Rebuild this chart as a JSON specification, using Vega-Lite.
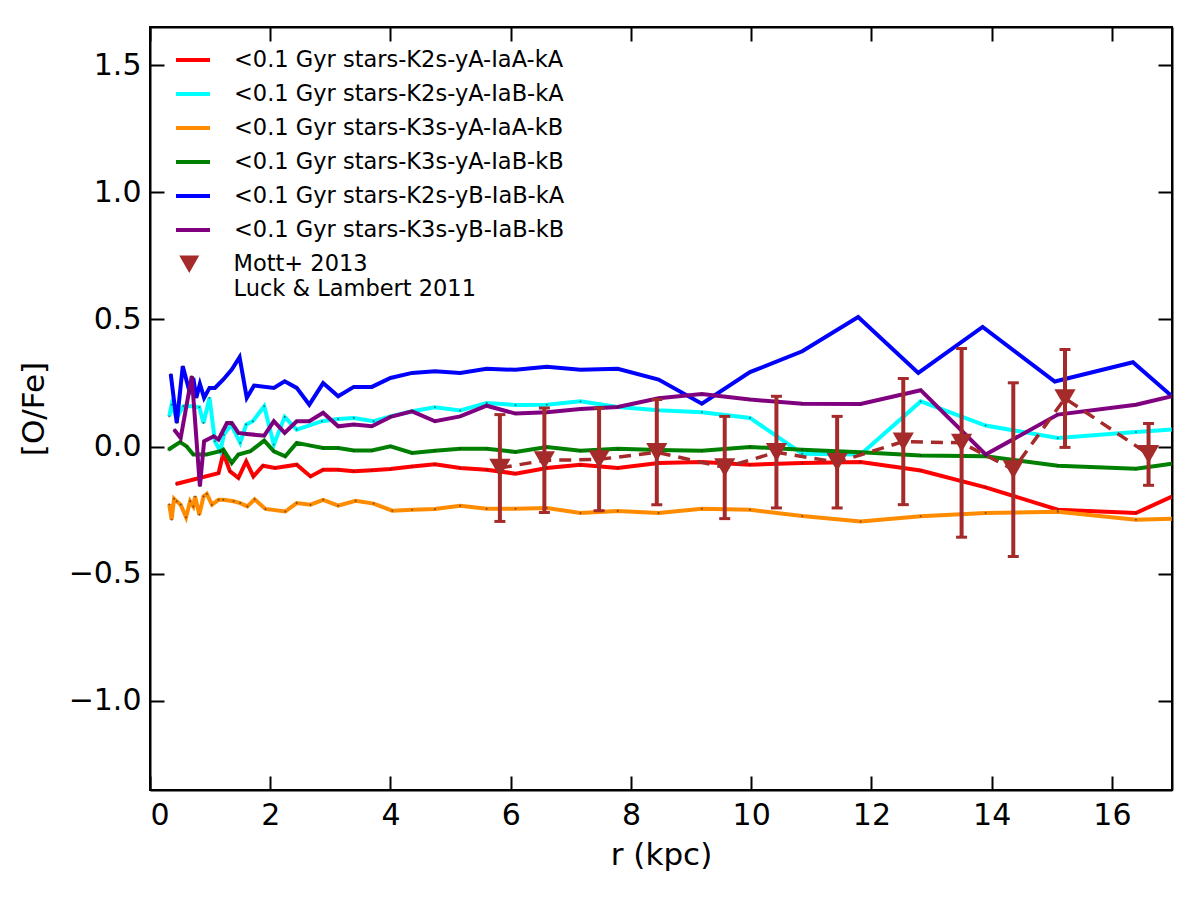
{
  "$schema": "https://vega.github.io/schema/vega-lite/v6.json",
  "width": 1022,
  "height": 763,
  "autosize": "none",
  "padding": {"left": 150, "top": 27, "right": 24, "bottom": 114},
  "background": "white",
  "config": {
    "font": "DejaVu Sans",
    "view": {"stroke": "black", "strokeWidth": 2},
    "axis": {
      "grid": false, "domainColor": "black", "domainWidth": 2,
      "tickColor": "black", "tickWidth": 2, "tickSize": -14,
      "labelFont": "DejaVu Sans", "labelFontSize": 30, "labelColor": "black",
      "titleFont": "DejaVu Sans", "titleFontSize": 31, "titleFontWeight": "normal", "titleColor": "black"
    },
    "legend": {"labelFont": "DejaVu Sans", "labelFontSize": 22.5, "labelColor": "black", "padding": 0, "labelLimit": 0}
  },
  "datasets": {
    "lines": [
      {"k": "K2s-yA-IaA-kA", "r": 0.43, "v": -0.147}, {"k": "K2s-yA-IaA-kA", "r": 1.14, "v": -0.104}, {"k": "K2s-yA-IaA-kA", "r": 1.22, "v": -0.025},
      {"k": "K2s-yA-IaA-kA", "r": 1.33, "v": -0.097}, {"k": "K2s-yA-IaA-kA", "r": 1.47, "v": -0.123}, {"k": "K2s-yA-IaA-kA", "r": 1.6, "v": -0.058},
      {"k": "K2s-yA-IaA-kA", "r": 1.72, "v": -0.117}, {"k": "K2s-yA-IaA-kA", "r": 1.88, "v": -0.075}, {"k": "K2s-yA-IaA-kA", "r": 2.08, "v": -0.084},
      {"k": "K2s-yA-IaA-kA", "r": 2.44, "v": -0.071}, {"k": "K2s-yA-IaA-kA", "r": 2.67, "v": -0.117}, {"k": "K2s-yA-IaA-kA", "r": 2.88, "v": -0.091},
      {"k": "K2s-yA-IaA-kA", "r": 3.13, "v": -0.091}, {"k": "K2s-yA-IaA-kA", "r": 3.39, "v": -0.097}, {"k": "K2s-yA-IaA-kA", "r": 3.69, "v": -0.093},
      {"k": "K2s-yA-IaA-kA", "r": 4.0, "v": -0.088}, {"k": "K2s-yA-IaA-kA", "r": 4.36, "v": -0.078}, {"k": "K2s-yA-IaA-kA", "r": 4.74, "v": -0.069},
      {"k": "K2s-yA-IaA-kA", "r": 5.16, "v": -0.084}, {"k": "K2s-yA-IaA-kA", "r": 5.6, "v": -0.091}, {"k": "K2s-yA-IaA-kA", "r": 6.08, "v": -0.106},
      {"k": "K2s-yA-IaA-kA", "r": 6.6, "v": -0.084}, {"k": "K2s-yA-IaA-kA", "r": 7.16, "v": -0.071}, {"k": "K2s-yA-IaA-kA", "r": 7.78, "v": -0.084},
      {"k": "K2s-yA-IaA-kA", "r": 8.46, "v": -0.064}, {"k": "K2s-yA-IaA-kA", "r": 9.18, "v": -0.06}, {"k": "K2s-yA-IaA-kA", "r": 9.98, "v": -0.071},
      {"k": "K2s-yA-IaA-kA", "r": 10.85, "v": -0.064}, {"k": "K2s-yA-IaA-kA", "r": 11.82, "v": -0.06}, {"k": "K2s-yA-IaA-kA", "r": 12.82, "v": -0.094},
      {"k": "K2s-yA-IaA-kA", "r": 13.9, "v": -0.16}, {"k": "K2s-yA-IaA-kA", "r": 15.1, "v": -0.248}, {"k": "K2s-yA-IaA-kA", "r": 16.4, "v": -0.261},
      {"k": "K2s-yA-IaA-kA", "r": 17.0, "v": -0.196},

      {"k": "K2s-yA-IaB-kA", "r": 0.32, "v": 0.119}, {"k": "K2s-yA-IaB-kA", "r": 0.36, "v": 0.165}, {"k": "K2s-yA-IaB-kA", "r": 0.445, "v": 0.113},
      {"k": "K2s-yA-IaB-kA", "r": 0.555, "v": 0.159}, {"k": "K2s-yA-IaB-kA", "r": 0.72, "v": 0.159}, {"k": "K2s-yA-IaB-kA", "r": 0.82, "v": 0.155},
      {"k": "K2s-yA-IaB-kA", "r": 0.89, "v": 0.093}, {"k": "K2s-yA-IaB-kA", "r": 0.99, "v": 0.192}, {"k": "K2s-yA-IaB-kA", "r": 1.08, "v": 0.021},
      {"k": "K2s-yA-IaB-kA", "r": 1.17, "v": -0.018}, {"k": "K2s-yA-IaB-kA", "r": 1.23, "v": 0.047}, {"k": "K2s-yA-IaB-kA", "r": 1.35, "v": 0.087},
      {"k": "K2s-yA-IaB-kA", "r": 1.5, "v": 0.015}, {"k": "K2s-yA-IaB-kA", "r": 1.6, "v": 0.087}, {"k": "K2s-yA-IaB-kA", "r": 1.71, "v": 0.1},
      {"k": "K2s-yA-IaB-kA", "r": 1.9, "v": 0.159}, {"k": "K2s-yA-IaB-kA", "r": 2.06, "v": 0.008}, {"k": "K2s-yA-IaB-kA", "r": 2.24, "v": 0.117},
      {"k": "K2s-yA-IaB-kA", "r": 2.44, "v": 0.067}, {"k": "K2s-yA-IaB-kA", "r": 2.86, "v": 0.1}, {"k": "K2s-yA-IaB-kA", "r": 3.13, "v": 0.109},
      {"k": "K2s-yA-IaB-kA", "r": 3.39, "v": 0.113}, {"k": "K2s-yA-IaB-kA", "r": 3.72, "v": 0.1}, {"k": "K2s-yA-IaB-kA", "r": 4.0, "v": 0.119},
      {"k": "K2s-yA-IaB-kA", "r": 4.36, "v": 0.139}, {"k": "K2s-yA-IaB-kA", "r": 4.74, "v": 0.155}, {"k": "K2s-yA-IaB-kA", "r": 5.16, "v": 0.142},
      {"k": "K2s-yA-IaB-kA", "r": 5.6, "v": 0.172}, {"k": "K2s-yA-IaB-kA", "r": 6.08, "v": 0.164}, {"k": "K2s-yA-IaB-kA", "r": 6.6, "v": 0.165},
      {"k": "K2s-yA-IaB-kA", "r": 7.16, "v": 0.178}, {"k": "K2s-yA-IaB-kA", "r": 7.78, "v": 0.156}, {"k": "K2s-yA-IaB-kA", "r": 8.46, "v": 0.143},
      {"k": "K2s-yA-IaB-kA", "r": 9.18, "v": 0.135}, {"k": "K2s-yA-IaB-kA", "r": 9.98, "v": 0.113}, {"k": "K2s-yA-IaB-kA", "r": 10.85, "v": -0.028},
      {"k": "K2s-yA-IaB-kA", "r": 11.82, "v": -0.031}, {"k": "K2s-yA-IaB-kA", "r": 12.82, "v": 0.178}, {"k": "K2s-yA-IaB-kA", "r": 13.9, "v": 0.083},
      {"k": "K2s-yA-IaB-kA", "r": 15.1, "v": 0.034}, {"k": "K2s-yA-IaB-kA", "r": 16.4, "v": 0.058}, {"k": "K2s-yA-IaB-kA", "r": 17.0, "v": 0.067},

      {"k": "K3s-yA-IaA-kB", "r": 0.32, "v": -0.226}, {"k": "K3s-yA-IaA-kB", "r": 0.36, "v": -0.287}, {"k": "K3s-yA-IaA-kB", "r": 0.4, "v": -0.205},
      {"k": "K3s-yA-IaA-kB", "r": 0.445, "v": -0.215}, {"k": "K3s-yA-IaA-kB", "r": 0.51, "v": -0.228}, {"k": "K3s-yA-IaA-kB", "r": 0.6, "v": -0.278},
      {"k": "K3s-yA-IaA-kB", "r": 0.667, "v": -0.215}, {"k": "K3s-yA-IaA-kB", "r": 0.72, "v": -0.235}, {"k": "K3s-yA-IaA-kB", "r": 0.75, "v": -0.196},
      {"k": "K3s-yA-IaA-kB", "r": 0.82, "v": -0.268}, {"k": "K3s-yA-IaA-kB", "r": 0.89, "v": -0.196}, {"k": "K3s-yA-IaA-kB", "r": 0.945, "v": -0.186},
      {"k": "K3s-yA-IaA-kB", "r": 1.03, "v": -0.228}, {"k": "K3s-yA-IaA-kB", "r": 1.14, "v": -0.209}, {"k": "K3s-yA-IaA-kB", "r": 1.22, "v": -0.209},
      {"k": "K3s-yA-IaA-kB", "r": 1.39, "v": -0.215}, {"k": "K3s-yA-IaA-kB", "r": 1.5, "v": -0.222}, {"k": "K3s-yA-IaA-kB", "r": 1.62, "v": -0.235},
      {"k": "K3s-yA-IaA-kB", "r": 1.74, "v": -0.207}, {"k": "K3s-yA-IaA-kB", "r": 1.92, "v": -0.245}, {"k": "K3s-yA-IaA-kB", "r": 2.25, "v": -0.255},
      {"k": "K3s-yA-IaA-kB", "r": 2.44, "v": -0.222}, {"k": "K3s-yA-IaA-kB", "r": 2.67, "v": -0.228}, {"k": "K3s-yA-IaA-kB", "r": 2.88, "v": -0.209},
      {"k": "K3s-yA-IaA-kB", "r": 3.13, "v": -0.232}, {"k": "K3s-yA-IaA-kB", "r": 3.42, "v": -0.213}, {"k": "K3s-yA-IaA-kB", "r": 3.72, "v": -0.224},
      {"k": "K3s-yA-IaA-kB", "r": 4.03, "v": -0.252}, {"k": "K3s-yA-IaA-kB", "r": 4.36, "v": -0.248}, {"k": "K3s-yA-IaA-kB", "r": 4.74, "v": -0.245},
      {"k": "K3s-yA-IaA-kB", "r": 5.16, "v": -0.232}, {"k": "K3s-yA-IaA-kB", "r": 5.6, "v": -0.244}, {"k": "K3s-yA-IaA-kB", "r": 6.08, "v": -0.244},
      {"k": "K3s-yA-IaA-kB", "r": 6.6, "v": -0.241}, {"k": "K3s-yA-IaA-kB", "r": 7.16, "v": -0.261}, {"k": "K3s-yA-IaA-kB", "r": 7.78, "v": -0.253},
      {"k": "K3s-yA-IaA-kB", "r": 8.46, "v": -0.261}, {"k": "K3s-yA-IaA-kB", "r": 9.18, "v": -0.244}, {"k": "K3s-yA-IaA-kB", "r": 9.98, "v": -0.248},
      {"k": "K3s-yA-IaA-kB", "r": 10.85, "v": -0.273}, {"k": "K3s-yA-IaA-kB", "r": 11.82, "v": -0.294}, {"k": "K3s-yA-IaA-kB", "r": 12.82, "v": -0.274},
      {"k": "K3s-yA-IaA-kB", "r": 13.9, "v": -0.261}, {"k": "K3s-yA-IaA-kB", "r": 15.1, "v": -0.256}, {"k": "K3s-yA-IaA-kB", "r": 16.4, "v": -0.287},
      {"k": "K3s-yA-IaA-kB", "r": 17.0, "v": -0.283},

      {"k": "K3s-yA-IaB-kB", "r": 0.305, "v": -0.012}, {"k": "K3s-yA-IaB-kB", "r": 0.5, "v": 0.018}, {"k": "K3s-yA-IaB-kB", "r": 0.61, "v": 0.001},
      {"k": "K3s-yA-IaB-kB", "r": 0.72, "v": -0.031}, {"k": "K3s-yA-IaB-kB", "r": 0.94, "v": -0.031}, {"k": "K3s-yA-IaB-kB", "r": 1.17, "v": -0.018},
      {"k": "K3s-yA-IaB-kB", "r": 1.22, "v": -0.012}, {"k": "K3s-yA-IaB-kB", "r": 1.36, "v": -0.064}, {"k": "K3s-yA-IaB-kB", "r": 1.47, "v": -0.031},
      {"k": "K3s-yA-IaB-kB", "r": 1.67, "v": -0.018}, {"k": "K3s-yA-IaB-kB", "r": 1.9, "v": 0.024}, {"k": "K3s-yA-IaB-kB", "r": 2.06, "v": -0.018},
      {"k": "K3s-yA-IaB-kB", "r": 2.25, "v": -0.038}, {"k": "K3s-yA-IaB-kB", "r": 2.44, "v": 0.015}, {"k": "K3s-yA-IaB-kB", "r": 2.67, "v": 0.004},
      {"k": "K3s-yA-IaB-kB", "r": 2.88, "v": -0.005}, {"k": "K3s-yA-IaB-kB", "r": 3.13, "v": -0.005}, {"k": "K3s-yA-IaB-kB", "r": 3.39, "v": -0.015},
      {"k": "K3s-yA-IaB-kB", "r": 3.69, "v": -0.015}, {"k": "K3s-yA-IaB-kB", "r": 4.0, "v": 0.001}, {"k": "K3s-yA-IaB-kB", "r": 4.36, "v": -0.025},
      {"k": "K3s-yA-IaB-kB", "r": 4.74, "v": -0.016}, {"k": "K3s-yA-IaB-kB", "r": 5.16, "v": -0.008}, {"k": "K3s-yA-IaB-kB", "r": 5.6, "v": -0.008},
      {"k": "K3s-yA-IaB-kB", "r": 6.08, "v": -0.021}, {"k": "K3s-yA-IaB-kB", "r": 6.6, "v": -0.001}, {"k": "K3s-yA-IaB-kB", "r": 7.16, "v": -0.016},
      {"k": "K3s-yA-IaB-kB", "r": 7.78, "v": -0.008}, {"k": "K3s-yA-IaB-kB", "r": 8.46, "v": -0.013}, {"k": "K3s-yA-IaB-kB", "r": 9.18, "v": -0.016},
      {"k": "K3s-yA-IaB-kB", "r": 9.98, "v": -0.001}, {"k": "K3s-yA-IaB-kB", "r": 10.85, "v": -0.012}, {"k": "K3s-yA-IaB-kB", "r": 11.82, "v": -0.022},
      {"k": "K3s-yA-IaB-kB", "r": 12.82, "v": -0.035}, {"k": "K3s-yA-IaB-kB", "r": 13.9, "v": -0.038}, {"k": "K3s-yA-IaB-kB", "r": 15.1, "v": -0.075},
      {"k": "K3s-yA-IaB-kB", "r": 16.4, "v": -0.087}, {"k": "K3s-yA-IaB-kB", "r": 17.0, "v": -0.067},

      {"k": "K2s-yB-IaB-kA", "r": 0.345, "v": 0.286}, {"k": "K2s-yB-IaB-kA", "r": 0.445, "v": 0.093}, {"k": "K2s-yB-IaB-kA", "r": 0.545, "v": 0.316},
      {"k": "K2s-yB-IaB-kA", "r": 0.655, "v": 0.218}, {"k": "K2s-yB-IaB-kA", "r": 0.72, "v": 0.27}, {"k": "K2s-yB-IaB-kA", "r": 0.77, "v": 0.192},
      {"k": "K2s-yB-IaB-kA", "r": 0.83, "v": 0.247}, {"k": "K2s-yB-IaB-kA", "r": 0.9, "v": 0.192}, {"k": "K2s-yB-IaB-kA", "r": 0.99, "v": 0.231},
      {"k": "K2s-yB-IaB-kA", "r": 1.08, "v": 0.231}, {"k": "K2s-yB-IaB-kA", "r": 1.22, "v": 0.264}, {"k": "K2s-yB-IaB-kA", "r": 1.36, "v": 0.303},
      {"k": "K2s-yB-IaB-kA", "r": 1.49, "v": 0.352}, {"k": "K2s-yB-IaB-kA", "r": 1.61, "v": 0.192}, {"k": "K2s-yB-IaB-kA", "r": 1.73, "v": 0.24},
      {"k": "K2s-yB-IaB-kA", "r": 2.06, "v": 0.231}, {"k": "K2s-yB-IaB-kA", "r": 2.24, "v": 0.257}, {"k": "K2s-yB-IaB-kA", "r": 2.44, "v": 0.231},
      {"k": "K2s-yB-IaB-kA", "r": 2.65, "v": 0.165}, {"k": "K2s-yB-IaB-kA", "r": 2.88, "v": 0.25}, {"k": "K2s-yB-IaB-kA", "r": 3.13, "v": 0.198},
      {"k": "K2s-yB-IaB-kA", "r": 3.39, "v": 0.235}, {"k": "K2s-yB-IaB-kA", "r": 3.69, "v": 0.235}, {"k": "K2s-yB-IaB-kA", "r": 4.0, "v": 0.27},
      {"k": "K2s-yB-IaB-kA", "r": 4.36, "v": 0.29}, {"k": "K2s-yB-IaB-kA", "r": 4.74, "v": 0.296}, {"k": "K2s-yB-IaB-kA", "r": 5.16, "v": 0.29},
      {"k": "K2s-yB-IaB-kA", "r": 5.6, "v": 0.306}, {"k": "K2s-yB-IaB-kA", "r": 6.08, "v": 0.302}, {"k": "K2s-yB-IaB-kA", "r": 6.6, "v": 0.314},
      {"k": "K2s-yB-IaB-kA", "r": 7.16, "v": 0.302}, {"k": "K2s-yB-IaB-kA", "r": 7.78, "v": 0.306}, {"k": "K2s-yB-IaB-kA", "r": 8.46, "v": 0.264},
      {"k": "K2s-yB-IaB-kA", "r": 9.18, "v": 0.169}, {"k": "K2s-yB-IaB-kA", "r": 9.98, "v": 0.293}, {"k": "K2s-yB-IaB-kA", "r": 10.85, "v": 0.375},
      {"k": "K2s-yB-IaB-kA", "r": 11.78, "v": 0.51}, {"k": "K2s-yB-IaB-kA", "r": 12.78, "v": 0.29}, {"k": "K2s-yB-IaB-kA", "r": 13.85, "v": 0.471},
      {"k": "K2s-yB-IaB-kA", "r": 15.05, "v": 0.256}, {"k": "K2s-yB-IaB-kA", "r": 16.35, "v": 0.332}, {"k": "K2s-yB-IaB-kA", "r": 17.0, "v": 0.198},

      {"k": "K3s-yB-IaB-kB", "r": 0.4, "v": 0.067}, {"k": "K3s-yB-IaB-kB", "r": 0.51, "v": 0.034}, {"k": "K3s-yB-IaB-kB", "r": 0.695, "v": 0.277},
      {"k": "K3s-yB-IaB-kB", "r": 0.83, "v": -0.156}, {"k": "K3s-yB-IaB-kB", "r": 0.9, "v": 0.021}, {"k": "K3s-yB-IaB-kB", "r": 1.06, "v": 0.041},
      {"k": "K3s-yB-IaB-kB", "r": 1.14, "v": 0.028}, {"k": "K3s-yB-IaB-kB", "r": 1.28, "v": 0.093}, {"k": "K3s-yB-IaB-kB", "r": 1.36, "v": 0.093},
      {"k": "K3s-yB-IaB-kB", "r": 1.47, "v": 0.054}, {"k": "K3s-yB-IaB-kB", "r": 1.61, "v": 0.05}, {"k": "K3s-yB-IaB-kB", "r": 1.9, "v": 0.043},
      {"k": "K3s-yB-IaB-kB", "r": 2.06, "v": 0.1}, {"k": "K3s-yB-IaB-kB", "r": 2.24, "v": 0.054}, {"k": "K3s-yB-IaB-kB", "r": 2.44, "v": 0.1},
      {"k": "K3s-yB-IaB-kB", "r": 2.65, "v": 0.1}, {"k": "K3s-yB-IaB-kB", "r": 2.88, "v": 0.133}, {"k": "K3s-yB-IaB-kB", "r": 3.13, "v": 0.08},
      {"k": "K3s-yB-IaB-kB", "r": 3.39, "v": 0.087}, {"k": "K3s-yB-IaB-kB", "r": 3.69, "v": 0.08}, {"k": "K3s-yB-IaB-kB", "r": 4.0, "v": 0.117},
      {"k": "K3s-yB-IaB-kB", "r": 4.36, "v": 0.139}, {"k": "K3s-yB-IaB-kB", "r": 4.74, "v": 0.1}, {"k": "K3s-yB-IaB-kB", "r": 5.16, "v": 0.119},
      {"k": "K3s-yB-IaB-kB", "r": 5.6, "v": 0.161}, {"k": "K3s-yB-IaB-kB", "r": 6.08, "v": 0.13}, {"k": "K3s-yB-IaB-kB", "r": 6.6, "v": 0.135},
      {"k": "K3s-yB-IaB-kB", "r": 7.16, "v": 0.148}, {"k": "K3s-yB-IaB-kB", "r": 7.78, "v": 0.156}, {"k": "K3s-yB-IaB-kB", "r": 8.46, "v": 0.19},
      {"k": "K3s-yB-IaB-kB", "r": 9.18, "v": 0.207}, {"k": "K3s-yB-IaB-kB", "r": 9.98, "v": 0.185}, {"k": "K3s-yB-IaB-kB", "r": 10.85, "v": 0.169},
      {"k": "K3s-yB-IaB-kB", "r": 11.82, "v": 0.168}, {"k": "K3s-yB-IaB-kB", "r": 12.82, "v": 0.222}, {"k": "K3s-yB-IaB-kB", "r": 13.9, "v": -0.031},
      {"k": "K3s-yB-IaB-kB", "r": 15.1, "v": 0.126}, {"k": "K3s-yB-IaB-kB", "r": 16.4, "v": 0.165}, {"k": "K3s-yB-IaB-kB", "r": 17.0, "v": 0.198}
    ],
    "obs": [
      {"src": "Mott+ 2013|Luck & Lambert 2011", "r": 5.82, "v": -0.084, "lo": -0.294, "hi": 0.126},
      {"src": "Mott+ 2013|Luck & Lambert 2011", "r": 6.56, "v": -0.054, "lo": -0.259, "hi": 0.152},
      {"src": "Mott+ 2013|Luck & Lambert 2011", "r": 7.47, "v": -0.05, "lo": -0.252, "hi": 0.152},
      {"src": "Mott+ 2013|Luck & Lambert 2011", "r": 8.43, "v": -0.022, "lo": -0.228, "hi": 0.185},
      {"src": "Mott+ 2013|Luck & Lambert 2011", "r": 9.56, "v": -0.082, "lo": -0.283, "hi": 0.119},
      {"src": "Mott+ 2013|Luck & Lambert 2011", "r": 10.42, "v": -0.022, "lo": -0.241, "hi": 0.198},
      {"src": "Mott+ 2013|Luck & Lambert 2011", "r": 11.43, "v": -0.061, "lo": -0.241, "hi": 0.119},
      {"src": "Mott+ 2013|Luck & Lambert 2011", "r": 12.53, "v": 0.02, "lo": -0.228, "hi": 0.268},
      {"src": "Mott+ 2013|Luck & Lambert 2011", "r": 13.5, "v": 0.015, "lo": -0.356, "hi": 0.386},
      {"src": "Mott+ 2013|Luck & Lambert 2011", "r": 14.36, "v": -0.09, "lo": -0.432, "hi": 0.251},
      {"src": "Mott+ 2013|Luck & Lambert 2011", "r": 15.22, "v": 0.19, "lo": -0.003, "hi": 0.382},
      {"src": "Mott+ 2013|Luck & Lambert 2011", "r": 16.61, "v": -0.03, "lo": -0.152, "hi": 0.091}
    ]
  },
  "resolve": {"axis": {"x": "independent", "y": "independent"}},
  "layer": [
    {
      "data": {"name": "lines"},
      "mark": {"type": "line", "strokeWidth": 4, "clip": true},
      "encoding": {
        "x": {"field": "r", "type": "quantitative", "title": "r (kpc)",
              "scale": {"domain": [0, 17], "nice": false, "zero": false},
              "axis": {"orient": "bottom", "values": [0, 2, 4, 6, 8, 10, 12, 14, 16], "format": "d", "labelPadding": 24, "titlePadding": 10}},
        "y": {"field": "v", "type": "quantitative", "title": "[O/Fe]",
              "scale": {"domain": [-1.35, 1.65], "nice": false, "zero": false},
              "axis": {"orient": "left", "values": [-1.0, -0.5, 0, 0.5, 1.0, 1.5], "format": ".1f", "labelPadding": 23, "titlePadding": 18}},
        "color": {"field": "k", "type": "nominal",
                  "scale": {"domain": ["K2s-yA-IaA-kA", "K2s-yA-IaB-kA", "K3s-yA-IaA-kB", "K3s-yA-IaB-kB", "K2s-yB-IaB-kA", "K3s-yB-IaB-kB"],
                            "range": ["#ff0000", "#00ffff", "#ff8c00", "#008000", "#0000ff", "#800080"]},
                  "legend": {"title": null, "orient": "none", "legendX": 24, "legendY": 14,
                             "symbolType": "stroke", "symbolStrokeWidth": 4, "symbolSize": 1156,
                             "labelOffset": 22, "rowPadding": 3,
                             "labelExpr": "'<0.1 Gyr stars-' + datum.label"}},
        "order": {"field": "r", "type": "quantitative"}
      }
    },
    {
      "data": {"name": "lines"},
      "mark": {"type": "point", "filled": true, "size": 4, "color": "#222222", "opacity": 0.6, "clip": true},
      "encoding": {
        "x": {"field": "r", "type": "quantitative", "axis": {"orient": "top", "labels": false, "title": null, "values": [0, 2, 4, 6, 8, 10, 12, 14, 16]}},
        "y": {"field": "v", "type": "quantitative", "axis": {"orient": "right", "labels": false, "title": null, "values": [-1.0, -0.5, 0, 0.5, 1.0, 1.5]}}
      }
    },
    {
      "data": {"name": "obs"},
      "mark": {"type": "line", "color": "#a52a2a", "strokeWidth": 3.5, "strokeDash": [12, 8]},
      "encoding": {
        "x": {"field": "r", "type": "quantitative", "axis": null},
        "y": {"field": "v", "type": "quantitative", "axis": null}
      }
    },
    {
      "data": {"name": "obs"},
      "mark": {"type": "rule", "color": "#a52a2a", "strokeWidth": 4},
      "encoding": {
        "x": {"field": "r", "type": "quantitative", "axis": null},
        "y": {"field": "lo", "type": "quantitative", "axis": null},
        "y2": {"field": "hi"}
      }
    },
    {
      "data": {"name": "obs"},
      "mark": {"type": "tick", "orient": "horizontal", "color": "#a52a2a", "size": 11, "thickness": 3, "opacity": 1},
      "encoding": {
        "x": {"field": "r", "type": "quantitative", "axis": null},
        "y": {"field": "lo", "type": "quantitative", "axis": null}
      }
    },
    {
      "data": {"name": "obs"},
      "mark": {"type": "tick", "orient": "horizontal", "color": "#a52a2a", "size": 11, "thickness": 3, "opacity": 1},
      "encoding": {
        "x": {"field": "r", "type": "quantitative", "axis": null},
        "y": {"field": "hi", "type": "quantitative", "axis": null}
      }
    },
    {
      "data": {"name": "obs"},
      "mark": {"type": "point", "filled": true, "color": "#a52a2a", "size": 450, "opacity": 1},
      "encoding": {
        "x": {"field": "r", "type": "quantitative", "axis": null},
        "y": {"field": "v", "type": "quantitative", "axis": null},
        "shape": {"field": "src", "type": "nominal",
                  "scale": {"range": ["triangle-down"]},
                  "legend": {"title": null, "orient": "none", "legendX": 28, "legendY": 226,
                             "symbolSize": 400, "symbolFillColor": "#a52a2a", "symbolStrokeColor": "#a52a2a",
                             "labelOffset": 33, "labelExpr": "split(datum.label, '|')"}}
      }
    }
  ]
}
